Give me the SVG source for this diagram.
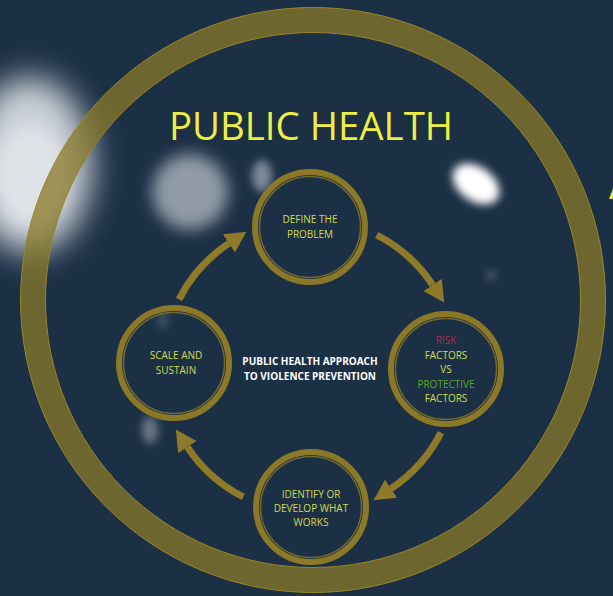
<svg xmlns="http://www.w3.org/2000/svg" width="613" height="596" viewBox="0 0 613 596">
<defs>
<style>
.lbl{font-family:"Open Sans","Liberation Sans",sans-serif;font-size:10px;fill:#d3dc4c;text-anchor:middle}
.ctr{font-family:"Open Sans","Liberation Sans",sans-serif;font-size:10px;font-weight:bold;fill:#ffffff;text-anchor:middle}
.ttl{font-family:"Open Sans","Liberation Sans",sans-serif;font-size:38.4px;fill:#eef03c}
.node-ring{fill:none;stroke:#8c7928;stroke-width:6}
.node-inner{fill:none;stroke:#8c7928;stroke-width:1.5;opacity:0.8}
.arc{fill:none;stroke:#8e7a28;stroke-width:7;marker-end:url(#head)}
</style>
<filter id="b4" x="-1" y="-1" width="3" height="3"><feGaussianBlur stdDeviation="4"/></filter>
<filter id="b8" x="-1" y="-1" width="3" height="3"><feGaussianBlur stdDeviation="8"/></filter>
<filter id="b16" x="-1" y="-1" width="3" height="3"><feGaussianBlur stdDeviation="16"/></filter>
<marker id="head" markerUnits="userSpaceOnUse" markerWidth="24" markerHeight="26" refX="0" refY="12" orient="auto" viewBox="0 0 24 24">
<path d="M0,1 L21,12 L0,23 Z" fill="#8e7a28"/>
</marker>
</defs>
<rect width="613" height="596" fill="#1b2f45"/>
<g id="blobs">
<ellipse cx="30" cy="165" rx="62" ry="88" fill="#dfe3e8" opacity="0.9" filter="url(#b16)"/>
<ellipse cx="30" cy="175" rx="35" ry="50" fill="#e8eaee" opacity="0.7" filter="url(#b8)"/>
<circle cx="190" cy="192" r="38" fill="#b8c0c8" opacity="0.75" filter="url(#b8)"/>
<ellipse cx="262" cy="176" rx="10" ry="16" fill="#c0c8d0" opacity="0.6" filter="url(#b4)"/>
<ellipse cx="476" cy="184" rx="26" ry="17" transform="rotate(35 476 184)" fill="#ffffff" filter="url(#b4)"/>
<circle cx="491" cy="275" r="4" fill="#8090a0" opacity="0.7" filter="url(#b4)"/>
<ellipse cx="150" cy="430" rx="8" ry="14" fill="#a0a8b0" opacity="0.6" filter="url(#b4)"/>
<ellipse cx="163" cy="320" rx="5" ry="9" fill="#8090a0" opacity="0.4" filter="url(#b4)"/>
</g>
<g id="outer-ring">
<circle cx="313" cy="300" r="280" fill="none" stroke="#8a7a28" stroke-opacity="0.75" stroke-width="25"/>
<circle cx="313" cy="300" r="292.5" fill="none" stroke="#9a8528" stroke-width="1"/>
<circle cx="313" cy="300" r="267.5" fill="none" stroke="#9a8528" stroke-width="1"/>
</g>
<g id="title"><text class="ttl" x="311" y="140" style="text-anchor:middle">PUBLIC HEALTH</text></g>
<text class="ttl" x="609" y="199" style="text-anchor:start">A</text>
<g id="connectors">
<path class="arc" d="M376.7,235.0 A147,147 0 0 1 432.6,284.9"/>
<path class="arc" d="M441.0,432.7 A147,147 0 0 1 391.1,488.6"/>
<path class="arc" d="M243.3,497.0 A147,147 0 0 1 187.4,447.1"/>
<path class="arc" d="M179.0,299.3 A147,147 0 0 1 228.9,243.4"/>
</g>
<g id="define">
<circle class="node-ring" cx="310" cy="227" r="55"/>
<circle class="node-inner" cx="310" cy="227" r="50.5"/>
<text class="lbl" x="310" y="223">DEFINE THE</text>
<text class="lbl" x="310" y="238">PROBLEM</text>
</g>
<g id="factors">
<circle class="node-ring" cx="446" cy="369" r="55"/>
<circle class="node-inner" cx="446" cy="369" r="50.5"/>
<text class="lbl" x="446" y="344" style="fill:#b5294f">RISK</text>
<text class="lbl" x="446" y="358.5">FACTORS</text>
<text class="lbl" x="446" y="373">VS</text>
<text class="lbl" x="446" y="387.5" style="fill:#5aa62a">PROTECTIVE</text>
<text class="lbl" x="446" y="401.5">FACTORS</text>
</g>
<g id="identify">
<circle class="node-ring" cx="311" cy="507" r="55"/>
<circle class="node-inner" cx="311" cy="507" r="50.5"/>
<text class="lbl" x="311" y="498">IDENTIFY OR</text>
<text class="lbl" x="311" y="512">DEVELOP WHAT</text>
<text class="lbl" x="311" y="526">WORKS</text>
</g>
<g id="scale">
<circle class="node-ring" cx="174" cy="363" r="55"/>
<circle class="node-inner" cx="174" cy="363" r="50.5"/>
<text class="lbl" x="176" y="358.5">SCALE AND</text>
<text class="lbl" x="176" y="373.5">SUSTAIN</text>
</g>
<g id="center">
<text class="ctr" x="310" y="364.5">PUBLIC HEALTH APPROACH</text>
<text class="ctr" x="310" y="380">TO VIOLENCE PREVENTION</text>
</g>
</svg>
